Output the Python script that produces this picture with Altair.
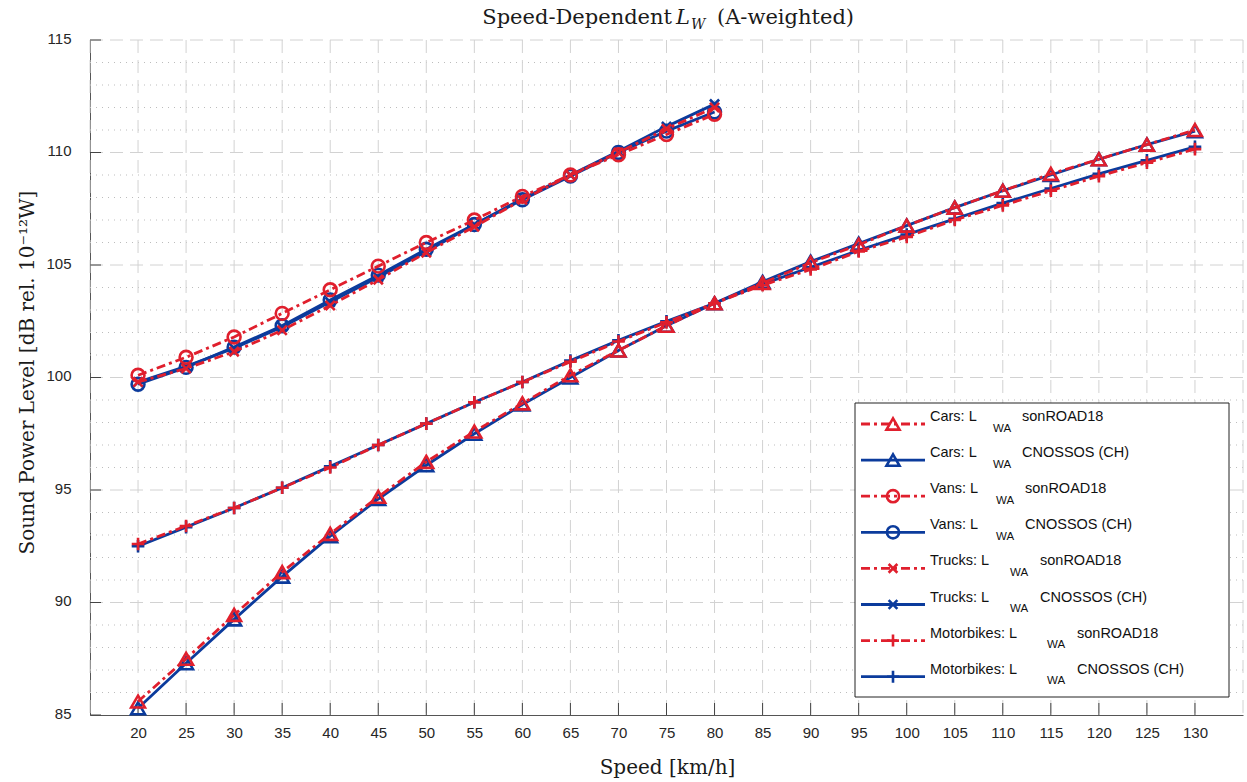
import altair as alt
import pandas as pd

# ---------------- data ----------------
SPEEDS_ALL = [20, 25, 30, 35, 40, 45, 50, 55, 60, 65, 70, 75, 80,
              85, 90, 95, 100, 105, 110, 115, 120, 125, 130]
SPEEDS_LIGHT = [20, 25, 30, 35, 40, 45, 50, 55, 60, 65, 70, 75, 80]

CARS_SON = [85.6, 87.5, 89.45, 91.35, 93.05, 94.7, 96.25, 97.6, 98.85, 100.1, 101.2, 102.3,
            103.3, 104.2, 105.1, 105.9, 106.75, 107.55, 108.3, 109.05, 109.7, 110.35, 111.0]
CARS_CNO = [85.3, 87.3, 89.25, 91.15, 92.95, 94.6, 96.1, 97.5, 98.8, 100.0, 101.2, 102.3,
            103.3, 104.25, 105.15, 105.95, 106.75, 107.55, 108.3, 109.0, 109.7, 110.35, 110.95]
MOTO_SON = [92.6, 93.4, 94.2, 95.1, 96.0, 97.0, 97.95, 98.9, 99.8, 100.7, 101.6, 102.45,
            103.3, 104.1, 104.8, 105.6, 106.25, 107.0, 107.65, 108.3, 108.95, 109.55, 110.15]
MOTO_CNO = [92.5, 93.35, 94.2, 95.1, 96.05, 97.0, 97.95, 98.9, 99.8, 100.75, 101.65, 102.5,
            103.3, 104.15, 104.9, 105.65, 106.35, 107.05, 107.75, 108.4, 109.05, 109.65, 110.25]
VANS_SON = [100.1, 100.9, 101.8, 102.85, 103.9, 104.95, 106.0, 107.0, 108.05, 109.0, 109.9, 110.8, 111.7]
VANS_CNO = [99.7, 100.45, 101.35, 102.3, 103.45, 104.55, 105.7, 106.8, 107.9, 108.95, 110.0, 110.95, 111.8]
TRUCKS_SON = [99.8, 100.4, 101.15, 102.1, 103.2, 104.35, 105.55, 106.7, 107.9, 109.0, 110.0, 111.05, 112.0]
TRUCKS_CNO = [99.8, 100.5, 101.3, 102.25, 103.35, 104.45, 105.6, 106.8, 107.95, 109.0, 110.05, 111.15, 112.15]

VEHICLES = ["Cars", "Vans", "Trucks", "Motorbikes"]
SOURCES = ["sonROAD18", "CNOSSOS (CH)"]
X_TICKS = SPEEDS_ALL
Y_TICKS = [85, 90, 95, 100, 105, 110, 115]
Y_MINOR = [86, 87, 88, 89, 91, 92, 93, 94, 96, 97, 98, 99, 101, 102, 103, 104,
           106, 107, 108, 109, 111, 112, 113, 114]
X_GRID = [15, 20, 25, 30, 35, 40, 45, 50, 55, 60, 65, 70, 75, 80,
          85, 90, 95, 100, 105, 110, 115, 120, 125, 130, 135]

# ---------------- styling ----------------
RED = "#e01f2d"
BLUE = "#0b3b9c"
DASH = [9, 4, 3, 4]
W, H = 1153, 675
SHAPES = {"Cars": "triangle-up", "Vans": "circle",
          "Trucks": "M-1,-1L1,1M-1,1L1,-1", "Motorbikes": "M-1,0L1,0M0,-1L0,1"}
SIZES = {"Cars": 190, "Vans": 165, "Trucks": 85, "Motorbikes": 160}

series = {
    ("Cars", "sonROAD18"): (SPEEDS_ALL, CARS_SON),
    ("Cars", "CNOSSOS (CH)"): (SPEEDS_ALL, CARS_CNO),
    ("Vans", "sonROAD18"): (SPEEDS_LIGHT, VANS_SON),
    ("Vans", "CNOSSOS (CH)"): (SPEEDS_LIGHT, VANS_CNO),
    ("Trucks", "sonROAD18"): (SPEEDS_LIGHT, TRUCKS_SON),
    ("Trucks", "CNOSSOS (CH)"): (SPEEDS_LIGHT, TRUCKS_CNO),
    ("Motorbikes", "sonROAD18"): (SPEEDS_ALL, MOTO_SON),
    ("Motorbikes", "CNOSSOS (CH)"): (SPEEDS_ALL, MOTO_CNO),
}
rows = []
for (veh, src), (sp, vals) in series.items():
    for s, v in zip(sp, vals):
        rows.append(dict(speed=s, level=v, vehicle=veh, source=src,
                         shape=SHAPES[veh], size=SIZES[veh]))
df = pd.DataFrame(rows)
df_son = df[df.source == "sonROAD18"]
df_cno = df[df.source == "CNOSSOS (CH)"]

xs = alt.Scale(domain=[15, 135], nice=False, zero=False)
ys = alt.Scale(domain=[85, 115], nice=False, zero=False)

X = alt.X("speed:Q", scale=xs,
          axis=alt.Axis(values=X_TICKS, title="Speed [km/h]", grid=False, ticks=False, tickSize=0,
                        labelPadding=10, titleX=577, titleY=58, titleBaseline="alphabetic",
                        titleAlign="center"))
Y = alt.Y("level:Q", scale=ys,
          axis=alt.Axis(values=Y_TICKS, title="Sound Power Level [dB rel. 10⁻¹²W]", grid=False,
                        ticks=False, tickSize=0, labelPadding=19, labelOffset=-2,
                        titleX=-57, titleY=332, titleAngle=270, titleAlign="center",
                        titleBaseline="alphabetic"))

GRID = "#d2d2d2"
grid_v = alt.Chart(pd.DataFrame({"g": X_GRID})).mark_rule(
    color=GRID, strokeWidth=1, strokeDash=[13, 7]).encode(x=alt.X("g:Q", scale=xs))
grid_h = alt.Chart(pd.DataFrame({"g": Y_TICKS[1:]})).mark_rule(
    color=GRID, strokeWidth=1, strokeDash=[13, 7]).encode(y=alt.Y("g:Q", scale=ys))
grid_m = alt.Chart(pd.DataFrame({"g": Y_MINOR})).mark_rule(
    color="#bdbdbd", strokeWidth=1, strokeDash=[1, 5]).encode(y=alt.Y("g:Q", scale=ys))
tick_x = alt.Chart(pd.DataFrame({"g": X_TICKS})).mark_rule(color="#444", strokeWidth=1).encode(
    x=alt.X("g:Q", scale=xs), y=alt.value(H), y2=alt.value(H - 12))
tick_y = alt.Chart(pd.DataFrame({"g": Y_TICKS})).mark_rule(color="#444", strokeWidth=1).encode(
    y=alt.Y("g:Q", scale=ys), x=alt.value(0), x2=alt.value(11))

def lines(d, color, dash=None):
    kw = dict(color=color, strokeWidth=2.8)
    if dash:
        kw["strokeDash"] = dash
    return alt.Chart(d).mark_line(**kw).encode(x=X, y=Y, detail="vehicle:N", order="speed:Q")

def points(d, color):
    return alt.Chart(d).mark_point(filled=False, strokeWidth=2.6, opacity=1).encode(
        x=X, y=Y,
        shape=alt.Shape("shape:N", scale=None),
        size=alt.Size("size:Q", scale=None),
        color=alt.value(color))

main = alt.layer(grid_m, grid_h, grid_v, tick_x, tick_y,
                 lines(df_cno, BLUE), points(df_cno, BLUE),
                 lines(df_son, RED, DASH), points(df_son, RED))

# ---------------- overlay: title and legend (pixel scales) ----------------
px = alt.Scale(domain=[0, W], nice=False, zero=False)
py = alt.Scale(domain=[H, 0], nice=False, zero=False)
SERIF = "DejaVu Serif"
SANS = "Liberation Sans"

one = pd.DataFrame({"a": [0]})
t1 = alt.Chart(one).mark_text(text="Speed-Dependent", font=SERIF, fontSize=21, align="right",
                              baseline="alphabetic", color="#1a1a1a").encode(
    x=alt.value(582), y=alt.value(-16))
t2 = alt.Chart(one).mark_text(text="L", font=SERIF, fontSize=21, fontStyle="italic", align="left",
                              baseline="alphabetic", color="#1a1a1a").encode(
    x=alt.value(586), y=alt.value(-16))
t3 = alt.Chart(one).mark_text(text="W", font=SERIF, fontSize=14, fontStyle="italic", align="left",
                              baseline="alphabetic", color="#1a1a1a").encode(
    x=alt.value(601), y=alt.value(-11))
t4 = alt.Chart(one).mark_text(text="(A-weighted)", font=SERIF, fontSize=21, align="left",
                              baseline="alphabetic", color="#1a1a1a").encode(
    x=alt.value(627), y=alt.value(-16))

box = alt.Chart(one).mark_rect(fill="white", stroke="#222", strokeWidth=1).encode(
    x=alt.value(765), x2=alt.value(1139), y=alt.value(363), y2=alt.value(657))

SUB_X = {"Cars": 903, "Vans": 906, "Trucks": 920, "Motorbikes": 957}
AFTER_X = {"Cars": 932, "Vans": 935, "Trucks": 950, "Motorbikes": 987}
leg_rows = []
i = 0
for veh in VEHICLES:
    for src in SOURCES:
        yy = 384 + i * 36.1
        leg_rows.append(dict(vehicle=veh, source=src, main=f"{veh}: L", sub="WA", after=src,
                             shape=SHAPES[veh], size=SIZES[veh] * 0.9,
                             y=yy, ysub=yy + 7.5, ytxt=yy - 3,
                             x0=771, x1=835, xm=803, xt=840,
                             xs=SUB_X[veh], xa=AFTER_X[veh]))
        i += 1
leg = pd.DataFrame(leg_rows)
leg_son = leg[leg.source == "sonROAD18"]
leg_cno = leg[leg.source == "CNOSSOS (CH)"]

def PX(f):
    return alt.X(f"{f}:Q", scale=px, axis=None)

def PY(f):
    return alt.Y(f"{f}:Q", scale=py, axis=None)

def leg_line(d, color, dash=None):
    kw = dict(color=color, strokeWidth=2.8)
    if dash:
        kw["strokeDash"] = dash
    return alt.Chart(d).mark_rule(**kw).encode(x=PX("x0"), x2="x1:Q", y=PY("y"))

def leg_pt(d, color):
    return alt.Chart(d).mark_point(filled=False, strokeWidth=2.6, opacity=1).encode(
        x=PX("xm"), y=PY("y"), shape=alt.Shape("shape:N", scale=None),
        size=alt.Size("size:Q", scale=None), color=alt.value(color))

txt_main = alt.Chart(leg).mark_text(font=SANS, fontSize=14.5, align="left", baseline="alphabetic",
                                    color="#111").encode(x=PX("xt"), y=PY("ytxt"), text="main:N")
txt_sub = alt.Chart(leg).mark_text(font=SANS, fontSize=11.5, align="left", baseline="alphabetic",
                                   color="#111").encode(x=PX("xs"), y=PY("ysub"), text="sub:N")
txt_after = alt.Chart(leg).mark_text(font=SANS, fontSize=14.5, align="left", baseline="alphabetic",
                                     color="#111").encode(x=PX("xa"), y=PY("ytxt"), text="after:N")

overlay = alt.layer(box, leg_line(leg_son, RED, DASH), leg_pt(leg_son, RED),
                    leg_line(leg_cno, BLUE), leg_pt(leg_cno, BLUE),
                    txt_main, txt_sub, txt_after, t1, t2, t3, t4)

chart = alt.layer(main, overlay).resolve_scale(x="independent", y="independent").properties(
    width=W, height=H,
    padding={"left": 90, "top": 40, "right": 4, "bottom": 67},
    autosize=alt.AutoSizeParams(type="none"),
).configure_view(stroke=None).configure_axis(
    labelFont=SANS, labelFontSize=15, labelColor="#262626",
    titleFont=SERIF, titleFontSize=20, titleFontWeight="normal", titleColor="#1a1a1a",
    domainColor="#555", domainWidth=1,
)

chart.save("out.html", embed_options={"renderer": "svg", "actions": False})
